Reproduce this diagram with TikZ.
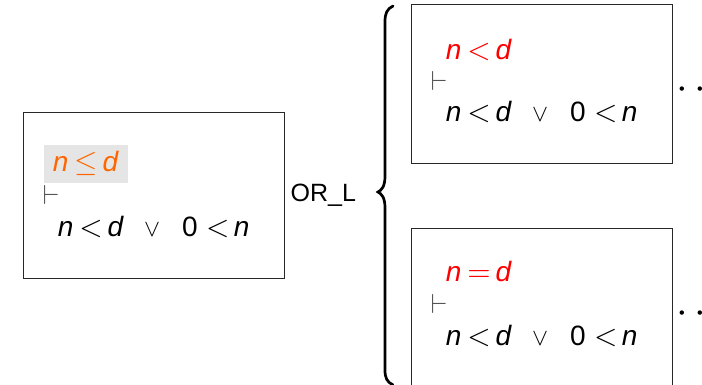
\documentclass[tikz,border=0pt]{standalone}
\usepackage{fontspec}
\usepackage{graphicx}
\setmainfont{Liberation Sans}
\definecolor{hlorange}{RGB}{255,102,0}
\definecolor{hlred}{RGB}{255,0,0}
\definecolor{hlgray}{RGB}{229,229,229}
\definecolor{tsgray}{RGB}{85,85,85}
\definecolor{boxline}{RGB}{40,40,40}
\newcommand\vn{\textit{n}}
\newcommand\vd{\textit{d}}
\newcommand\rel[1]{\scalebox{3.0}{\fontsize{10}{10}\selectfont$#1$}}
\newcommand\lhs[1]{\vn\hspace{6pt}\rel{#1}\hspace{5pt}\vd}
\newcommand\disj{\lhs{<}\hspace{20pt}\scalebox{2.4}{\fontsize{10}{10}\selectfont$\vee$}\hspace{22pt}0\hspace{8.5pt}\rel{<}\hspace{4.5pt}\vn}
\newcommand\tstile{\scalebox{2.75}{\fontsize{10}{10}\selectfont$\vdash$}}
\tikzset{
  seqbox/.style={draw=boxline, line width=0.9pt, anchor=north west, inner sep=0pt},
  fml/.style={anchor=base west, inner sep=0pt, font=\fontsize{28}{28}\selectfont},
  turn/.style={anchor=base west, inner sep=0pt, text=tsgray},
  rulelabel/.style={anchor=base west, inner sep=0pt, font=\fontsize{25}{25}\selectfont},
  cont/.style={anchor=base west, inner sep=0pt},
}
\begin{document}
\begin{tikzpicture}[x=1pt,y=-1pt]
\useasboundingbox (0,0) rectangle (702,385);
% left sequent
\node[seqbox, minimum width=261pt, minimum height=165pt] (seqL) at (22.5,112.5) {};
\node[fill=hlgray, anchor=north west, inner sep=0pt, minimum width=84pt, minimum height=38pt] (hl) at (44,145) {};
\node[fml, text=hlorange] (antL) at (52.6,171.7) {\lhs{\leq}};
\node[turn] (tsL) at (42.5,204.5) {\tstile};
\node[fml] (sucL) at (57.6,236.7) {\disj};
% rule name
\node[rulelabel] (rule) at (290.5,201.5) {OR\_L};
% brace
\draw[line width=2.7pt, line cap=round] (393,6) .. controls (387,9) and (385,13) .. (385,22) -- (385,176)
  .. controls (385,186) and (382,190) .. (378,192) .. controls (382,194) and (385,198) .. (385,208)
  -- (385,370) .. controls (385,378) and (387,382) .. (393,385);
% top premise
\node[seqbox, minimum width=261pt, minimum height=159pt] (seqA) at (410.5,4.5) {};
\node[fml, text=hlred] (antA) at (445.6,60) {\lhs{<}};
\node[turn] (tsA) at (430.5,91) {\tstile};
\node[fml] (sucA) at (445.6,122) {\disj};
\node[cont] (dotsA) at (675.9,99.6) {\scalebox{4.18}{\fontsize{10}{10}\selectfont$\cdots$}};
% bottom premise
\node[seqbox, minimum width=261pt, minimum height=159pt] (seqB) at (410.5,227.5) {};
\node[fml, text=hlred] (antB) at (445.6,281.7) {\lhs{=}};
\node[turn] (tsB) at (430.5,313.5) {\tstile};
\node[fml] (sucB) at (445.6,345.7) {\disj};
\node[cont] (dotsB) at (675.9,323) {\scalebox{4.18}{\fontsize{10}{10}\selectfont$\cdots$}};
\end{tikzpicture}
\end{document}
